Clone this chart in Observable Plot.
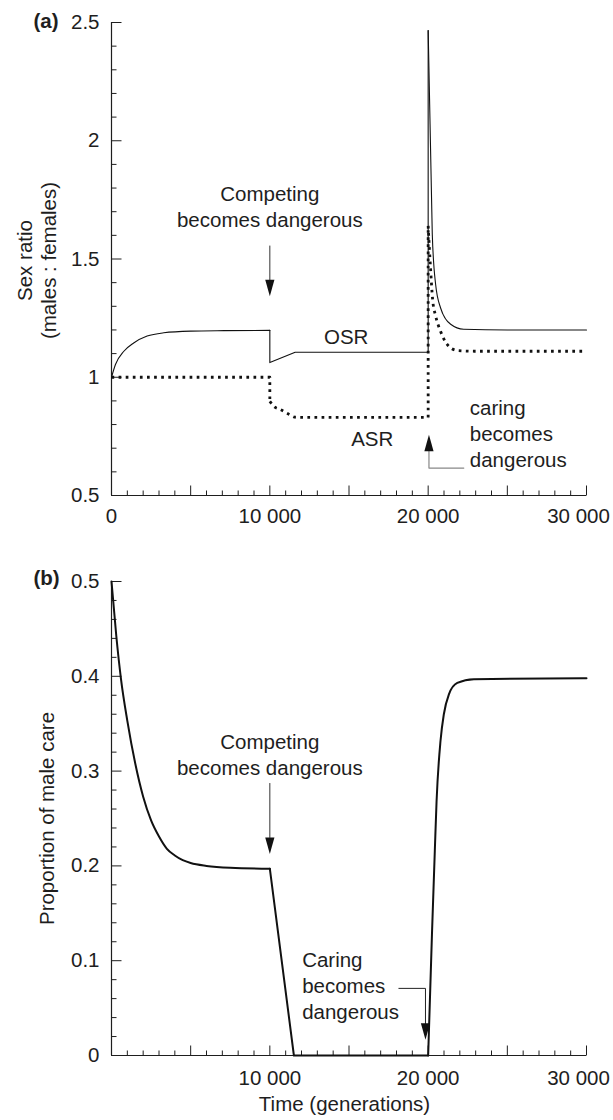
<!DOCTYPE html>
<html><head><meta charset="utf-8">
<script src="https://cdn.jsdelivr.net/npm/d3@7"></script>
<script src="https://cdn.jsdelivr.net/npm/@observablehq/plot@0.6"></script>
<style>
html,body{margin:0;padding:0;background:#fff;}
#wrap{position:relative;width:613px;height:1120px;overflow:hidden;}
#wrap > svg{position:absolute;left:0;display:block;}
</style></head><body><div id="wrap"></div>
<script>
// ---------------- DATA ----------------
// Panel (a): sex ratios vs time (generations)
const osrRise  = [[0,1.0],[250,1.054],[780,1.11],[1400,1.145],[2250,1.174],[3300,1.188],[5000,1.195],[7100,1.197],[10000,1.198]];
const osrStep  = [[10000,1.198],[10000,1.062],[11600,1.106],[20000,1.106],[20000,2.466]];
const osrDecay = [[20000,2.466],[20260,1.605],[20470,1.393],[20780,1.294],[21420,1.224],[22240,1.203],[25000,1.2],[30000,1.2]];

const asrFlat  = [[0,1.0],[10000,1.0],[10000,0.898]];
const asrDrop  = [[10000,0.898],[10250,0.877],[10680,0.863],[11200,0.844],[11620,0.831],[13000,0.83],[20000,0.83]];
const asrJump  = [[20000,0.83],[20000,1.64]];
const asrDecay = [[20000,1.64],[20150,1.46],[20280,1.33],[20470,1.26],[20780,1.195],[21200,1.139],[21840,1.113],[23000,1.11],[30000,1.11]];

// Panel (b): proportion of male care
const careDecay = [[0,0.5],[300,0.443],[600,0.397],[1000,0.353],[1500,0.308],[2000,0.273],[2500,0.248],[3000,0.231],[3500,0.218],[4000,0.211],[4500,0.206],[5000,0.203],[6000,0.2],[7500,0.198],[10000,0.197]];
const careDrop  = [[10000,0.197],[11520,0],[20000,0]];
const careRise  = [[20000,0],[20240,0.128],[20420,0.216],[20530,0.268],[20780,0.332],[20990,0.36],[21310,0.381],[21840,0.393],[22890,0.397],[30000,0.398]];

// Tick labels
const xTickValues = [0, 10000, 20000, 30000];
const xTickLabels = ["0", "10 000", "20 000", "30 000"];
const yTickValuesA = [0.5, 1, 1.5, 2, 2.5];
const yTickLabelsA = ["0.5", "1", "1.5", "2", "2.5"];
const yTickValuesB = [0, 0.1, 0.2, 0.3, 0.4, 0.5];
const yTickLabelsB = ["0", "0.1", "0.2", "0.3", "0.4", "0.5"];

// Annotations (data coordinates)
const annotA = [
  {t: 10000, v: 1.636, text: "Competing\nbecomes dangerous", anchor: "middle"},
  {t: 14820, v: 1.140, text: "OSR", anchor: "middle"},
  {t: 16470, v: 0.708, text: "ASR", anchor: "middle"},
  {t: 22630, v: 0.619, text: "caring\nbecomes\ndangerous", anchor: "start"}
];
const annotB = [
  {t: 10000, v: 0.296, text: "Competing\nbecomes dangerous", anchor: "middle"},
  {t: 12040, v: 0.038, text: "Caring\nbecomes\ndangerous", anchor: "start"}
];
const arrowA1 = [[10000,1.555],[10000,1.36]];          // down arrow shaft
const arrowA1Tip = [[10000,1.343]];
const leaderA2 = [[20050,0.691],[20050,0.616],[22250,0.616]]; // up arrow leader
const arrowA2Tip = [[20050,0.757]];
const arrowB1 = [[10000,0.287],[10000,0.23]];
const arrowB1Tip = [[10000,0.2126]];
const leaderB2 = [[18150,0.0708],[19830,0.0708],[19830,0.03]];
const arrowB2Tip = [[19830,0.0165]];

// ---------------- helpers ----------------
const FONT = "'Liberation Sans', Arial, Helvetica, sans-serif";
const FS = 20.5;
const INK = "#1e1e1e";
const rows = (segs) => segs.flatMap(([name, pts]) => pts.map(([t, v]) => ({t, v, seg: name})));
const pts = (arr) => arr.map(([t, v]) => ({t, v}));
const tickUp = (len) => ({draw(ctx) { ctx.moveTo(0, 0); ctx.lineTo(0, -len); }});
const tickRight = (len) => ({draw(ctx) { ctx.moveTo(0, 0); ctx.lineTo(len, 0); }});
const headDown = {draw(ctx) { ctx.moveTo(0, 0); ctx.lineTo(-4.6, -16.5); ctx.lineTo(4.6, -16.5); ctx.closePath(); }};
const headUp = {draw(ctx) { ctx.moveTo(0, 0); ctx.lineTo(-4.6, 16.5); ctx.lineTo(4.6, 16.5); ctx.closePath(); }};

const xMajor = d3.range(0, 30001, 5000);
const xMinor = d3.range(0, 30001, 1000).filter(t => t % 5000 !== 0);
const yMinorA = d3.range(6, 25).map(i => i / 10).filter(v => !yTickValuesA.includes(v));
const yMinorB = d3.range(1, 25).filter(i => i % 5 !== 0).map(i => i / 50);

function axesMarks(y0, yMajor, yMinor, xLabels, yLabels, xLabelDy) {
  const mainX = xLabels.filter(d => d.t !== 30000);
  const lastX = xLabels.filter(d => d.t === 30000);
  return [
    Plot.ruleX([0], {stroke: INK, strokeWidth: 1.2}),
    Plot.ruleY([y0], {stroke: INK, strokeWidth: 1.2}),
    Plot.dot(xMajor, {x: d => d, y: y0, symbol: tickUp(10), stroke: INK, fill: "none", strokeWidth: 1}),
    Plot.dot(xMinor, {x: d => d, y: y0, symbol: tickUp(5), stroke: INK, fill: "none", strokeWidth: 1}),
    Plot.dot(yMajor, {x: 0, y: d => d, symbol: tickRight(10), stroke: INK, fill: "none", strokeWidth: 1}),
    Plot.dot(yMinor, {x: 0, y: d => d, symbol: tickRight(5), stroke: INK, fill: "none", strokeWidth: 1}),
    Plot.text(mainX, {x: "t", y: y0, text: "label", lineAnchor: "top", dy: xLabelDy, fontSize: FS, fill: INK}),
    Plot.text(lastX, {x: "t", y: y0, text: "label", lineAnchor: "top", dy: xLabelDy, dx: -8, fontSize: FS, fill: INK}),
    Plot.text(yLabels, {x: 0, y: "v", text: "label", textAnchor: "end", dx: -12, fontSize: FS, fill: INK})
  ];
}

const wrap = document.getElementById("wrap");

// ---------------- Panel (a) ----------------
const xLabA = xTickValues.map((t, i) => ({t, label: xTickLabels[i]}));
const yLabA = yTickValuesA.map((v, i) => ({v, label: yTickLabelsA[i]}));
const osrSmooth = rows([["r", osrRise], ["d", osrDecay]]);
const osrLinear = rows([["s", osrStep]]);
const asrSmooth = rows([["d1", asrDrop], ["d2", asrDecay]]);
const asrLinear = rows([["f", asrFlat], ["j", asrJump]]);

const chartA = Plot.plot({
  width: 613, height: 540,
  marginLeft: 111, marginRight: 27, marginTop: 22, marginBottom: 45,
  x: {domain: [0, 30000], axis: null},
  y: {domain: [0.5, 2.5], axis: null},
  style: {fontFamily: FONT, fontSize: FS + "px", color: INK, background: "transparent", overflow: "visible"},
  marks: [
    ...axesMarks(0.5, yTickValuesA, yMinorA, xLabA, yLabA, 13),
    Plot.line(osrSmooth, {x: "t", y: "v", z: "seg", curve: "monotone-x", stroke: "#111", strokeWidth: 1.1}),
    Plot.line(osrLinear, {x: "t", y: "v", z: "seg", stroke: "#111", strokeWidth: 1.1}),
    Plot.line(asrLinear, {x: "t", y: "v", z: "seg", stroke: "#111", strokeWidth: 2.8, strokeDasharray: "2.7 4.4", strokeLinecap: "butt"}),
    Plot.line(asrSmooth, {x: "t", y: "v", z: "seg", curve: "monotone-x", stroke: "#111", strokeWidth: 2.8, strokeDasharray: "2.7 4.4", strokeLinecap: "butt"}),
    Plot.line(pts(arrowA1), {x: "t", y: "v", stroke: "#333", strokeWidth: 1}),
    Plot.dot(pts(arrowA1Tip), {x: "t", y: "v", symbol: headDown, fill: "#111", stroke: "none"}),
    Plot.line(pts(leaderA2), {x: "t", y: "v", stroke: "#888", strokeWidth: 1.2}),
    Plot.dot(pts(arrowA2Tip), {x: "t", y: "v", symbol: headUp, fill: "#111", stroke: "none"}),
    Plot.text(annotA.filter(d => d.anchor === "middle"), {x: "t", y: "v", text: "text", textAnchor: "middle", lineAnchor: "bottom", lineHeight: 1.27, fontSize: FS, fill: INK}),
    Plot.text(annotA.filter(d => d.anchor === "start"), {x: "t", y: "v", text: "text", textAnchor: "start", lineAnchor: "bottom", lineHeight: 1.27, fontSize: FS, fill: INK}),
    Plot.text(["(a)"], {frameAnchor: "top-left", dx: -78, dy: 5, textAnchor: "start", lineAnchor: "bottom", fontWeight: "bold", fontSize: FS, fill: INK}),
    Plot.text(["Sex ratio\n(males : females)"], {frameAnchor: "left", rotate: -90, textAnchor: "middle", lineAnchor: "bottom", lineHeight: 1.15, dx: -56, dy: 1.5, fontSize: FS, fill: INK})
  ]
});
chartA.style.top = "0px";
wrap.appendChild(chartA);

// ---------------- Panel (b) ----------------
const xLabB = xTickValues.map((t, i) => ({t, label: xTickLabels[i]})).filter(d => d.t !== 0);
const yLabB = yTickValuesB.map((v, i) => ({v, label: yTickLabelsB[i]}));
const careSmooth = rows([["a", careDecay], ["c", careRise]]);
const careLinear = rows([["b", careDrop]]);

const chartB = Plot.plot({
  width: 613, height: 580,
  marginLeft: 111, marginRight: 27, marginTop: 41, marginBottom: 65,
  x: {domain: [0, 30000], axis: null},
  y: {domain: [0, 0.5], axis: null},
  style: {fontFamily: FONT, fontSize: FS + "px", color: INK, background: "transparent", overflow: "visible"},
  marks: [
    ...axesMarks(0, yTickValuesB, yMinorB, xLabB, yLabB, 15),
    Plot.line(careSmooth, {x: "t", y: "v", z: "seg", curve: "monotone-x", stroke: "#111", strokeWidth: 2}),
    Plot.line(careLinear, {x: "t", y: "v", z: "seg", stroke: "#111", strokeWidth: 2}),
    Plot.line(pts(arrowB1), {x: "t", y: "v", stroke: "#333", strokeWidth: 1}),
    Plot.dot(pts(arrowB1Tip), {x: "t", y: "v", symbol: headDown, fill: "#111", stroke: "none"}),
    Plot.line(pts(leaderB2), {x: "t", y: "v", stroke: "#222", strokeWidth: 1}),
    Plot.dot(pts(arrowB2Tip), {x: "t", y: "v", symbol: headDown, fill: "#111", stroke: "none"}),
    Plot.text(annotB.filter(d => d.anchor === "middle"), {x: "t", y: "v", text: "text", textAnchor: "middle", lineAnchor: "bottom", lineHeight: 1.27, fontSize: FS, fill: INK}),
    Plot.text(annotB.filter(d => d.anchor === "start"), {x: "t", y: "v", text: "text", textAnchor: "start", lineAnchor: "bottom", lineHeight: 1.27, fontSize: FS, fill: INK}),
    Plot.text(["(b)"], {frameAnchor: "top-left", dx: -78, dy: 3, textAnchor: "start", lineAnchor: "bottom", fontWeight: "bold", fontSize: FS, fill: INK}),
    Plot.text(["Proportion of male care"], {frameAnchor: "left", rotate: -90, textAnchor: "middle", lineAnchor: "bottom", dx: -58, dy: 0, fontSize: FS, fill: INK}),
    Plot.text(["Time (generations)"], {frameAnchor: "bottom", textAnchor: "middle", lineAnchor: "bottom", dx: -4.5, dy: 55, fontSize: FS, fill: INK})
  ]
});
chartB.style.top = "540px";
wrap.appendChild(chartB);
</script>
</body></html>
